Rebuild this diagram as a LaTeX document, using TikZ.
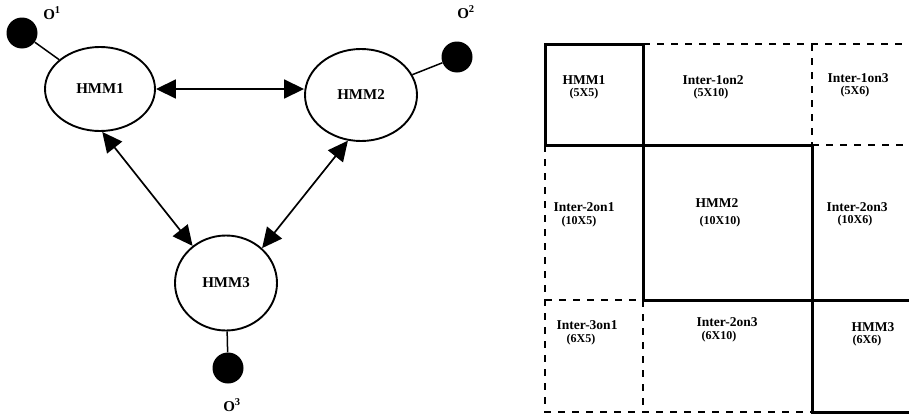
\documentclass[tikz,border=0pt]{standalone}
\usepackage{fontspec}
\setmainfont{Liberation Serif}
\usetikzlibrary{shapes.geometric,arrows.meta}
\begin{document}
\begin{tikzpicture}[x=1pt,y=-1pt,
  hmm/.style={draw,ellipse,line width=1.9pt,inner sep=0pt,font=\fontsize{15}{16}\selectfont\bfseries},
  obs/.style={circle,fill=black,minimum size=31pt,inner sep=0pt},
  olabel/.style={font=\fontsize{15}{16}\selectfont\bfseries},
  link/.style={line width=1.7pt,{Triangle[length=20pt,width=19pt]}-{Triangle[length=20pt,width=19pt]}},
  tie/.style={line width=1.5pt},
  thick box/.style={line width=3pt,line cap=rect},
  dash box/.style={line width=1.5pt,dash pattern=on 7pt off 7pt},
  cellname/.style={font=\fontsize{13.5}{14}\selectfont\bfseries,inner sep=0pt},
  celldim/.style={font=\fontsize{12}{13}\selectfont\bfseries,inner sep=0pt}]
\useasboundingbox (0,0) rectangle (909,415);

% ---- coupled HMM graph ----
\node[hmm,minimum width=110pt,minimum height=84pt] (h1) at (100,89) {HMM1};
\node[hmm,minimum width=112pt,minimum height=92pt] (h2) at (361,95) {HMM2};
\node[hmm,minimum width=102pt,minimum height=95pt] (h3) at (226,283) {HMM3};

\node[obs] (o1) at (22,33) {};
\node[obs] (o2) at (457,57) {};
\node[obs] (o3) at (228,368) {};

\node[olabel] (l1) at (52,13) {O\textsuperscript{1}};
\node[olabel] (l2) at (466,12) {O\textsuperscript{2}};
\node[olabel] (l3) at (232,405) {O\textsuperscript{3}};

\draw[tie] (o1) -- (h1);
\draw[tie] (o2) -- (h2);
\draw[tie] (o3) -- (h3);

\draw[link] (h1.east) -- (h2.west |- h1.east);
\draw[link] (h1.-87) -- (h3.132);
\draw[link] (h2.-106) -- (h3.44);

% ---- block matrix of the coupled model ----
\draw[thick box] (545,44) rectangle (643,145);
\draw[thick box] (643,145) -- (812,145) -- (812,300) -- (643,300) -- cycle;
\draw[thick box] (812,300) -- (907,300);
\draw[thick box] (812,300) -- (812,412) -- (907,412);

\draw[dash box] (643,44) -- (909,44);
\draw[dash box] (812,44) -- (812,145);
\draw[dash box] (812,145) -- (909,145);
\draw[dash box] (545,145) -- (545,412) -- (812,412);
\draw[dash box] (545,300) -- (643,300);
\draw[dash box] (643,300) -- (643,412);

\node[cellname] (n11) at (584,80) {HMM1};
\node[celldim]  (d11) at (584,94) {(5X5)};
\node[cellname] (n12) at (713,80) {Inter-1on2};
\node[celldim]  (d12) at (711,94) {(5X10)};
\node[cellname] (n13) at (858,78) {Inter-1on3};
\node[celldim]  (d13) at (855,92) {(5X6)};

\node[cellname] (n21) at (584,207) {Inter-2on1};
\node[celldim]  (d21) at (579,222) {(10X5)};
\node[cellname] (n22) at (717,203) {HMM2};
\node[celldim]  (d22) at (720,222) {(10X10)};
\node[cellname] (n23) at (857,207) {Inter-2on3};
\node[celldim]  (d23) at (855,221) {(10X6)};

\node[cellname] (n31) at (587,325) {Inter-3on1};
\node[celldim]  (d31) at (581,340) {(6X5)};
\node[cellname] (n32) at (727,322) {Inter-2on3};
\node[celldim]  (d32) at (719,337) {(6X10)};
\node[cellname] (n33) at (873,327) {HMM3};
\node[celldim]  (d33) at (867,341) {(6X6)};
\end{tikzpicture}
\end{document}
